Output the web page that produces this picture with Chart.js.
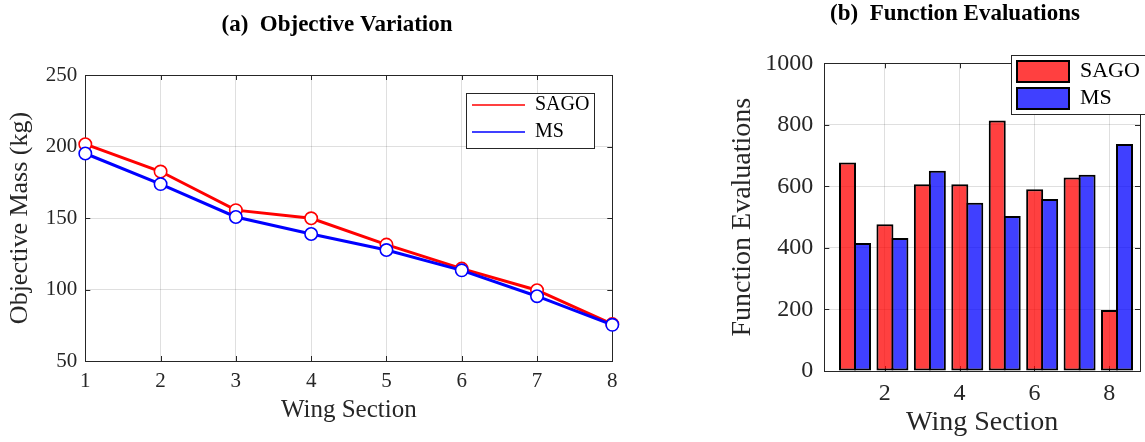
<!DOCTYPE html>
<html><head><meta charset="utf-8">
<script src="https://cdn.jsdelivr.net/npm/chart.js@4.4.1/dist/chart.umd.min.js"></script>
<style>
html,body{margin:0;padding:0;background:#fff;overflow:hidden;width:1145px;height:442px;position:relative;}
#c1{position:absolute;left:0;top:0;}
#c2{position:absolute;left:700px;top:0;}
</style></head><body>
<canvas id="c1" width="674" height="442"></canvas>
<canvas id="c2" width="510" height="442"></canvas>
<script>
// ---- data ----
const sections = [1, 2, 3, 4, 5, 6, 7, 8];
const sectionLabels = ['1', '2', '3', '4', '5', '6', '7', '8'];
const massSAGO = [201.6, 182.5, 155.5, 149.8, 131.4, 114.6, 99.5, 75.8];
const massMS = [195.1, 173.7, 150.7, 138.8, 127.6, 113.4, 95.3, 75.3];
const massTicks = [50, 100, 150, 200, 250];
const evalSAGO = [678, 477, 607, 607, 814, 591, 629, 198];
const evalMS = [416, 432, 651, 547, 504, 559, 638, 738];
const evalTicks = [0, 200, 400, 600, 800, 1000];
const evalSectionTicks = [2, 4, 6, 8];

Chart.defaults.font.family = "'Liberation Serif', serif";
Chart.defaults.color = '#262626';

const AX = '#262626';
const GRID = 'rgba(38,38,38,0.15)';

const frameTicks = {
  id: 'frameTicks',
  beforeDatasetsDraw(chart, args, o) {
    const {ctx, chartArea: a} = chart;
    const xs = chart.scales[o.xId], ys = chart.scales.y;
    const L = o.len;
    ctx.save();
    ctx.strokeStyle = AX; ctx.lineWidth = 1;
    ctx.beginPath();
    xs.ticks.forEach((t, i) => {
      const px = Math.round(xs.getPixelForTick(i)) + 0.5;
      ctx.moveTo(px, a.bottom); ctx.lineTo(px, a.bottom - L);
      ctx.moveTo(px, a.top); ctx.lineTo(px, a.top + L);
    });
    ys.ticks.forEach((t, i) => {
      const py = Math.round(ys.getPixelForTick(i)) + 0.5;
      ctx.moveTo(a.left, py); ctx.lineTo(a.left + L, py);
      ctx.moveTo(a.right, py); ctx.lineTo(a.right - L, py);
    });
    ctx.stroke();
    ctx.strokeRect(Math.round(a.left) + 0.5, Math.round(a.top) + 0.5, Math.round(a.right - a.left), Math.round(a.bottom - a.top));
    ctx.restore();
  }
};

const legendBox = {
  id: 'legendBox',
  afterUpdate(chart, args, o) {
    const lg = chart.legend;
    if (!lg) return;
    lg.left = o.left; lg.top = o.top; lg.right = o.right; lg.bottom = o.bottom;
    lg.width = o.right - o.left; lg.height = o.bottom - o.top;
    lg.adjustHitBoxes();
  },
  afterDraw(chart, args, o) {
    const ctx = chart.ctx;
    ctx.save();
    ctx.fillStyle = '#fff';
    ctx.fillRect(o.bx, o.by, o.bw, o.bh);
    ctx.strokeStyle = AX; ctx.lineWidth = 1;
    ctx.strokeRect(o.bx + 0.5, o.by + 0.5, o.bw, o.bh);
    ctx.restore();
    chart.legend.draw();
  }
};

const byIndex = (a, b) => a.datasetIndex - b.datasetIndex;

// ---- (a) Objective Variation ----
new Chart(document.getElementById('c1'), {
  type: 'line',
  data: {
    labels: sectionLabels,
    datasets: [
      { label: 'SAGO', data: massSAGO, borderColor: '#ff0000', backgroundColor: '#ff0000',
        borderWidth: 3, pointRadius: 6.2, pointBorderWidth: 1.6, pointBackgroundColor: '#ffffff',
        pointBorderColor: '#ff0000', tension: 0, clip: false, order: 1 },
      { label: 'MS', data: massMS, borderColor: '#0000ff', backgroundColor: '#0000ff',
        borderWidth: 3, pointRadius: 6.2, pointBorderWidth: 1.6, pointBackgroundColor: '#ffffff',
        pointBorderColor: '#0000ff', tension: 0, clip: false, order: 0 }
    ]
  },
  options: {
    responsive: false, animation: false, events: [],
    layout: { padding: 0 },
    plugins: {
      title: { display: true, text: '(a)  Objective Variation', color: '#000',
        font: { size: 23, weight: 'bold' }, padding: { top: 11.2, bottom: 36.2 } },
      legend: { display: true, position: 'chartArea', align: 'start',
        labels: { usePointStyle: true, pointStyle: 'line', pointStyleWidth: 53, padding: 7,
          color: '#000', font: { size: 20 }, sort: byIndex } },
      tooltip: { enabled: false },
      frameTicks: { xId: 'x', len: 5 },
      legendBox: { left: 465, top: 88, right: 600, bottom: 150, bx: 466, by: 93, bw: 128, bh: 55 }
    },
    scales: {
      x: { type: 'category', offset: false,
        grid: { color: GRID, drawTicks: false, offset: false }, border: { display: false },
        ticks: { padding: 7.4, color: AX, font: { size: 21 }, maxRotation: 0 },
        title: { display: true, text: 'Wing Section', color: AX, font: { size: 25 }, padding: { top: 0, bottom: 17 } },
        afterFit(s) { s.height = 81; s.paddingRight = 674 - 612.3; } },
      y: { min: massTicks[0], max: massTicks[massTicks.length - 1],
        afterBuildTicks(s) { s.ticks = massTicks.map(v => ({ value: v })); },
        grid: { color: GRID, drawTicks: false }, border: { display: false },
        ticks: { padding: 8, color: AX, font: { size: 21 } },
        title: { display: true, text: 'Objective Mass (kg)', color: AX, font: { size: 26 }, padding: { top: 4.4, bottom: 0 } },
        afterFit(s) { s.width = 85.3; } }
    }
  },
  plugins: [frameTicks, legendBox]
});

// ---- (b) Function Evaluations ----
const barRed = 'rgba(255,0,0,0.75)';
const barBlue = 'rgba(0,0,255,0.75)';
new Chart(document.getElementById('c2'), {
  type: 'bar',
  data: {
    datasets: [
      { label: 'SAGO', data: sections.map((s, i) => ({ x: s, y: evalSAGO[i] })),
        backgroundColor: barRed, borderColor: '#000', borderWidth: 2, borderSkipped: false,
        xAxisID: 'x', yAxisID: 'y', categoryPercentage: 0.8, barPercentage: 1.136 },
      { label: 'MS', data: sections.map((s, i) => ({ x: s, y: evalMS[i] })),
        backgroundColor: barBlue, borderColor: '#000', borderWidth: 2, borderSkipped: false,
        xAxisID: 'x', yAxisID: 'y', categoryPercentage: 0.8, barPercentage: 1.136 }
    ]
  },
  options: {
    responsive: false, animation: false, events: [],
    layout: { padding: 0 },
    plugins: {
      title: { display: true, text: '(b)  Function Evaluations', color: '#000',
        font: { size: 23, weight: 'bold' }, padding: { top: 0, bottom: 35.7 } },
      legend: { display: true, position: 'chartArea', align: 'start',
        labels: { boxWidth: 52, boxHeight: 21, padding: 5, color: '#000', font: { size: 22 }, sort: byIndex } },
      tooltip: { enabled: false },
      frameTicks: { xId: 'x2', len: 5 },
      legendBox: { left: 312, top: 55.5, right: 470, bottom: 118, bx: 311, by: 55, bw: 160, bh: 59 }
    },
    scales: {
      x: { type: 'linear', display: false, offset: false, min: 0.18, max: 8.614,
        afterBuildTicks(s) { s.ticks = sections.map(v => ({ value: v })); },
        grid: { display: false, offset: false } },
      x2: { type: 'linear', position: 'bottom', offset: false, min: 0.386, max: 8.82,
        afterBuildTicks(s) { s.ticks = evalSectionTicks.map(v => ({ value: v })); },
        grid: { color: GRID, drawTicks: false, offset: false }, border: { display: false },
        ticks: { padding: 8.6, color: AX, font: { size: 24 }, maxRotation: 0, callback: v => String(v) },
        title: { display: true, text: 'Wing Section', color: AX, font: { size: 28 }, padding: { top: 0, bottom: 2.2 } },
        afterFit(s) { s.height = 71; s.paddingRight = 510 - 440; } },
      y: { min: evalTicks[0], max: evalTicks[evalTicks.length - 1],
        afterBuildTicks(s) { s.ticks = evalTicks.map(v => ({ value: v })); },
        grid: { color: GRID, drawTicks: false }, border: { display: false },
        ticks: { padding: 11, color: AX, font: { size: 24 }, callback: v => String(v) },
        title: { display: true, text: 'Function Evaluations', color: AX, font: { size: 28 }, padding: { top: 26.2, bottom: 0 } },
        afterFit(s) { s.width = 124.3; } }
    }
  },
  plugins: [frameTicks, legendBox]
});
</script>
</body></html>
